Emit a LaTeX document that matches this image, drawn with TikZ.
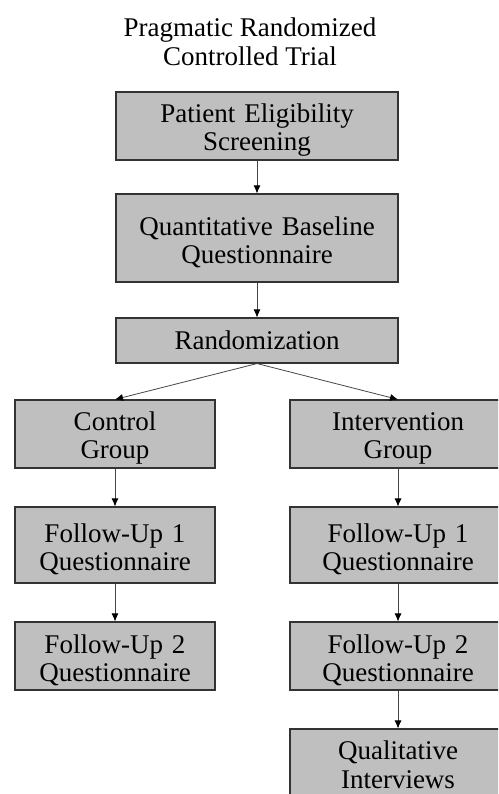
\documentclass[tikz,border=0pt]{standalone}
\usepackage{fontspec}
\setmainfont{Liberation Serif}
\usetikzlibrary{arrows.meta}

\begin{document}
\begin{tikzpicture}[x=1pt, y=1pt, font=\fontsize{27}{28.5}\selectfont,
	stage/.style={draw=black!80, line width=1.1pt, fill=gray!50, align=center, inner sep=0pt, minimum height=68pt},
	twoline/.style={stage, execute at begin node={\rule{0pt}{27pt}}},
	flow/.style={-{Latex[length=8pt, width=7pt, color=black]}, draw=gray!55!black, line width=0.8pt}]
				
				\clip (0,0) rectangle (498,-794);
				
				\node[align=center, inner sep=0pt] (title) at (250,-42) {Pragmatic Randomized\\Controlled Trial};
				
				\node[twoline, text width=282pt] (screen) at (257,-126) {Patient Eligibility\\Screening};
				
				\node[twoline, text width=282pt, minimum height=88pt] (baseline) at (257,-238) {Quantitative Baseline\\Questionnaire};
				
				\node[stage, minimum width=282pt, minimum height=45pt] (random) at (257,-340.5) {Randomization};
				
				\node[twoline, text width=200pt] (control) at (115,-434) {Control\\Group};
				
				\node[twoline, text width=200pt, minimum height=76pt] (cfollowone) at (115,-545) {Follow-Up 1\\Questionnaire};
				
				\node[twoline, text width=200pt] (cfollowtwo) at (115,-656) {Follow-Up 2\\Questionnaire};
				
				\node[twoline, text width=216pt] (interv) at (398,-434) {Intervention\\Group};
				
				\node[twoline, text width=216pt, minimum height=76pt] (ifollowone) at (398,-545) {Follow-Up 1\\Questionnaire};
				
				\node[twoline, text width=216pt] (ifollowtwo) at (398,-656) {Follow-Up 2\\Questionnaire};
				
				\node[stage, minimum width=216pt, minimum height=72pt] (qual) at (398,-765) {Qualitative\\Interviews};
				
				\draw[flow] (screen) -- (baseline);
				
				\draw[flow] (baseline) -- (random);
				
				\draw[flow] (random.south) -- (control.north);
				
				\draw[flow] (random.south) -- (interv.north);
				
				\draw[flow] (control) -- (cfollowone);
				
				\draw[flow] (cfollowone) -- (cfollowtwo);
				
				\draw[flow] (interv) -- (ifollowone);
				
				\draw[flow] (ifollowone) -- (ifollowtwo);
				
				\draw[flow] (ifollowtwo) -- (qual);
				
				\end{tikzpicture}
\end{document}
